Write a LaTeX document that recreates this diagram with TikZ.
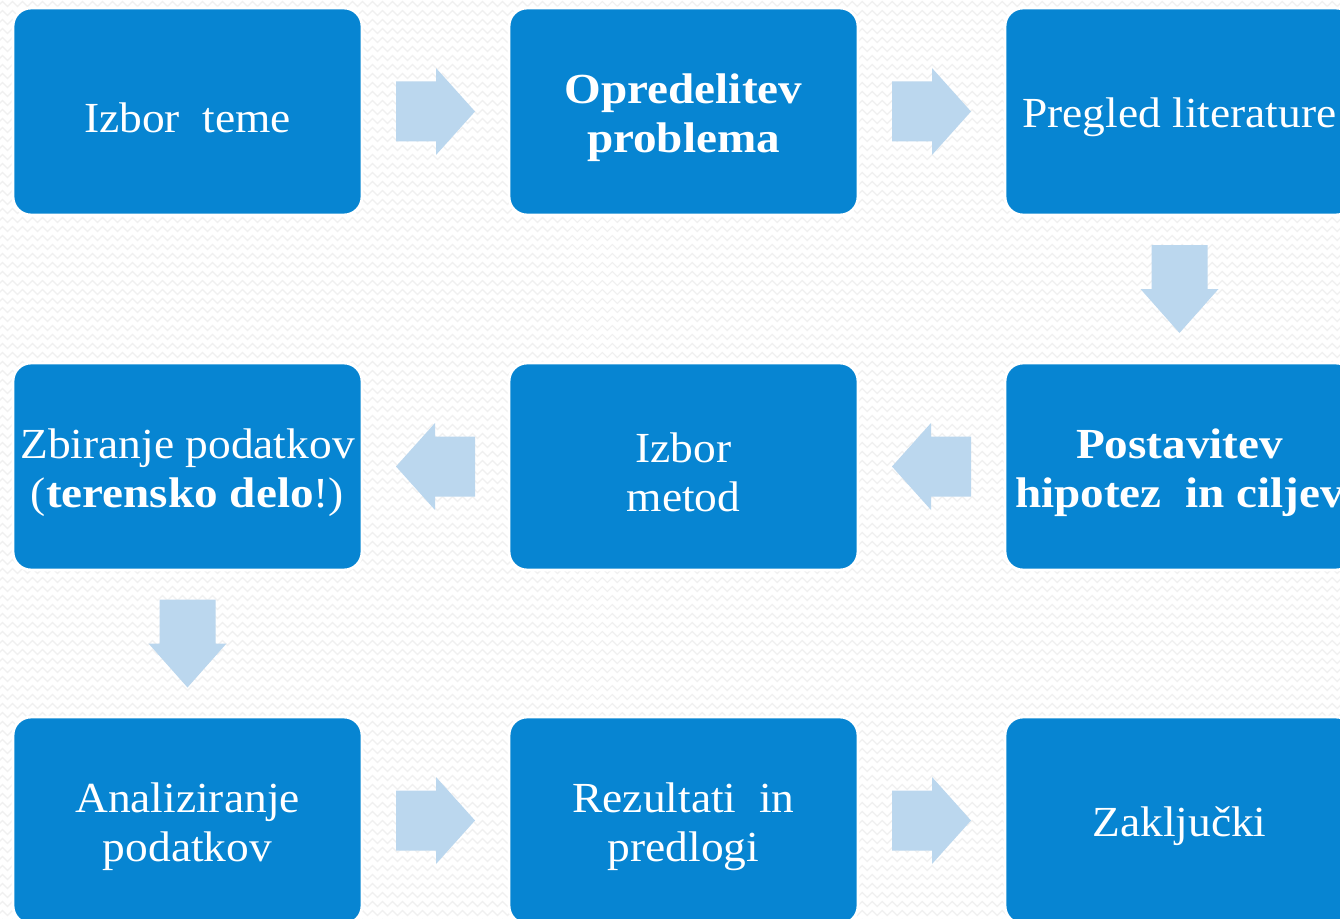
\documentclass[tikz,border=0pt]{standalone}
\usepackage{fontspec}
\setmainfont{Liberation Serif}[FakeStretch=1.06,BoldFeatures={FakeStretch=1.1}]
\usetikzlibrary{calc,decorations.pathmorphing}
\definecolor{boxblue}{HTML}{0785D2}
\definecolor{arrowblue}{HTML}{BBD7EE}
\definecolor{zigcol}{HTML}{F0F0F0}
\newcommand\boxfont{\fontsize{24.4pt}{27.9pt}\selectfont}
\begin{document}
\begin{tikzpicture}[x=0.02cm,y=-0.02cm,
  stepbox/.style={rectangle, rounded corners=0.36cm, fill=boxblue, draw=white,
    line width=1.6pt, minimum width=6.98cm, minimum height=4.14cm, inner sep=0pt},
  boxtext/.style={text=white, align=center, inner sep=0pt, font=\boxfont},
  boldtext/.style={boxtext, font=\boxfont\bfseries},
  harr/.pic={\fill[arrowblue] (-39.5,-30) -- (0.5,-30) -- (0.5,-43.5) -- (39.5,0)
     -- (0.5,43.5) -- (0.5,30) -- (-39.5,30) -- cycle;},
  varr/.pic={\fill[arrowblue] (-44,-28) -- (0,-28) -- (0,-39) -- (44,0)
     -- (0,39) -- (0,28) -- (-44,28) -- cycle;},
  zig/.style={draw=zigcol, line width=0.7pt, decorate,
    decoration={zigzag, segment length=0.2cm, amplitude=0.05cm}}
]
\useasboundingbox (0,0) rectangle (1340,919);
\clip (0,0) rectangle (1340,919);
\fill[white] (0,0) rectangle (1340,919);
\foreach \yy in {4,13,...,925} \draw[zig] (-10,\yy) -- (1350,\yy);

\node[stepbox] (n1) at (187.5,111.5) {};
\node[stepbox] (n2) at (683.5,111.5) {};
\node[stepbox] (n3) at (1179.5,111.5) {};
\node[stepbox] (n4) at (187.5,466.5) {};
\node[stepbox] (n5) at (683.5,466.5) {};
\node[stepbox] (n6) at (1179.5,466.5) {};
\node[stepbox] (n7) at (187.5,820.5) {};
\node[stepbox] (n8) at (683.5,820.5) {};
\node[stepbox] (n9) at (1179.5,820.5) {};

\node[boxtext]  (t1) at ([yshift=-0.12cm]n1.center) {Izbor\ \ teme};
\node[boldtext] (t2) at ([yshift=-0.12cm]n2.center) {Opredelitev\\problema};
\node[boxtext]  (t3) at ([yshift=-0.12cm]n3.center) {Pregled literature};
\node[boxtext]  (t4) at ([yshift=-0.12cm]n4.center) {Zbiranje podatkov\\(\textbf{terensko delo}!)};
\node[boxtext]  (t5) at ([yshift=-0.12cm]n5.center) {Izbor\\metod};
\node[boldtext] (t6) at ([yshift=-0.12cm]n6.center) {Postavitev\\hipotez\ \ in ciljev};
\node[boxtext]  (t7) at ([yshift=-0.12cm]n7.center) {Analiziranje\\podatkov};
\node[boxtext]  (t8) at ([yshift=-0.12cm]n8.center) {Rezultati\ \ in\\predlogi};
\node[boxtext]  (t9) at ([yshift=-0.12cm]n9.center) {Zaključki};

\pic at ($(n1.east)!0.5!(n2.west)$) {harr};
\pic at ($(n2.east)!0.5!(n3.west)$) {harr};
\pic[rotate=-90] at ($(n3.south)!0.5!(n6.north)$) {varr};
\pic[rotate=180] at ($(n6.west)!0.5!(n5.east)$) {harr};
\pic[rotate=180] at ($(n5.west)!0.5!(n4.east)$) {harr};
\pic[rotate=-90] at ($(n4.south)!0.5!(n7.north)$) {varr};
\pic at ($(n7.east)!0.5!(n8.west)$) {harr};
\pic at ($(n8.east)!0.5!(n9.west)$) {harr};
\end{tikzpicture}
\end{document}
